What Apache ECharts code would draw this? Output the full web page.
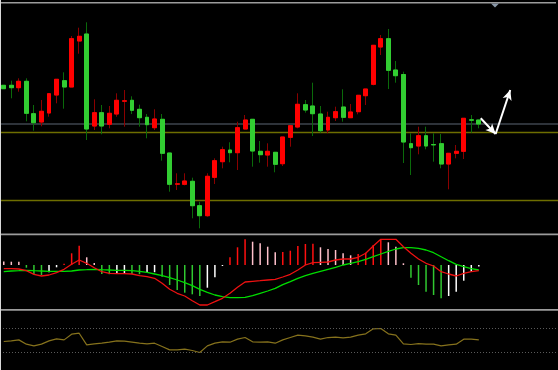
<!DOCTYPE html>
<html><head><meta charset="utf-8">
<script src="https://cdn.jsdelivr.net/npm/echarts@6/dist/echarts.min.js"></script>
<style>html,body{margin:0;padding:0;background:#000;}#c{width:558px;height:370px;}</style>
</head><body><div id="c"></div>
<script>
// ---- data (price units are arbitrary points) ----
const opens  = [164.7,164.7,162.3,168.7,136.3,128,137,155,169.3,163,209,216,124,137.3,125.7,136,148.8,149.7,140.7,132.7,122.3,130.7,97,65.8,65.7,68.7,44.3,34.3,72.7,88.3,100,97.3,121,130.7,98.7,95,97.7,86.3,112.7,123,145.3,144,136,120,132.3,143,132.3,138.3,154.3,165.7,203,211.3,180,175.5,106.3,104,114.3,105.5,106.3,86,96.7,98.7,130.2,130];
const closes = [161.3,162.3,168.7,136.7,127.3,138.7,156.3,170.7,163,211.3,213.7,121,137.3,124,136.7,149.7,149.2,139.7,132.3,125.3,131,96.7,65.7,66.2,69,44.3,34.3,73.7,89.3,100.3,97.3,122.3,130,99,95.3,98.7,85.7,113,124.3,145.7,140,136.3,119.3,132.7,138.3,132.7,138,154.7,161,204.7,211.3,179.7,174.3,108,102.3,114.3,104,105.1,86,96.7,98.7,131.7,129.8,126];
const lows   = [161,151.7,158.3,128.7,119.3,123.7,133.3,146.7,141.3,163,196.3,110,120,115.7,121.7,133.3,123.3,136,123.3,111.7,120,89.3,58.3,60,64.7,31.7,21.7,33.3,66,81.7,87.7,80,121,83.3,87.3,83.3,77.7,84,103.3,121.7,137.3,114,117.3,116.7,129,128.3,132.3,135.7,145,164.7,195,161,167.3,87,75,95.7,100.7,88.3,81.7,60.7,91.7,91,117.3,121.7];
const highs  = [165,169.3,171.7,171.7,145,150,156.3,170.7,177.7,214,222.3,227.7,150.7,145,144,156.7,160,153.7,145.3,136,140.7,136,97,76.7,76.7,72.3,48.3,76.7,91.7,103.3,107.7,128.3,135,130.7,109,106.7,97.7,113,124.3,156.7,150,167.3,144,138.3,143.3,160.7,146,154.7,161,204.7,215,221,189,178.3,116.7,123.3,123.3,116.7,116,96.7,105,131.7,135,130];

const macdHist   = [3.6,3.3,3.2,-2.7,-9,-10,-7.3,-2.3,1.3,11.7,19.3,7.7,2,-9,-9.2,-9,-8.3,-9,-9.2,-7.3,-7.2,-11.7,-20,-25,-27.7,-29.3,-31,-22.7,-12.3,-1,7.7,17.7,25.7,23.3,21.7,18.3,12.8,13,14.3,19,21,21.3,17.7,16,15,11.7,9.7,11,12.3,20,25.7,22.7,18.3,1.7,-12.7,-20,-26.7,-30,-33.3,-31,-26.7,-15.7,-6.7,-1.5];
const macdLine   = [-3.7,-3.7,-4,-5.7,-9.3,-11,-10,-7.7,-4.3,0.7,5,1.7,-2.7,-6.7,-8.3,-8.7,-8.7,-9,-10.7,-11.7,-13.3,-18.3,-24.3,-28.3,-31,-35.7,-40,-40,-36.7,-33.3,-28.3,-22.3,-17,-16.3,-15.7,-15,-14.3,-12,-9.3,-5,0,2.3,2.7,3,5,6,6,7.7,11.7,19,25.7,25.7,25.7,18.3,11.7,6,1.7,-1,-6.7,-9,-11,-8.3,-6.7,-5.7];
const signalLine = [-6.7,-6,-5.7,-5.3,-5.7,-6,-6.3,-6.3,-6.3,-6,-5,-4.7,-4.3,-4.7,-5,-5.3,-5.3,-5.7,-6.3,-7.3,-9,-10.7,-12.7,-15,-17.7,-20.7,-24.3,-27.3,-30,-31.7,-32.7,-32.7,-32.3,-30.7,-28.3,-26,-23.3,-19.7,-16.7,-13.3,-10.7,-8.3,-6.3,-4.3,-2.3,0,1.7,3.3,5.7,8.3,11,13.7,16,17.3,17.3,16.7,15,12.3,8.3,4.3,0.7,-1.7,-3.7,-5];
const rsiLine    = [47.7,48.8,50.5,43.1,40.2,43.1,48.8,52.2,50.5,60.2,61.9,41.9,43.7,44.8,46.5,48.8,48.2,46.5,44.8,43.7,44.8,39.1,33.4,33.4,34.5,32.2,28.8,40.2,44.8,47.1,46.5,51.7,54.5,47.1,46.5,47.1,44.8,50.5,54.5,58.5,57.4,55.1,51.7,54.5,55.1,53.9,55.1,58.5,60.8,69.4,70,60.8,58.5,43.7,42.5,44.2,43.1,43.1,40.2,41.9,43.1,51.7,51.7,50.5];

const priceLevels = [126, 117.3, 49.3];
const rsiLevels = [70, 30];
const arrowPath = [[63.25,131.7],[65.23,116],[67.17,160]];
const slotCount = 74;
const categories = Array.from({length: slotCount}, (_, i) => 'Bar ' + (i + 1));

// ---- build chart ----
const fullCandles = opens.map((o, i) => [o, closes[i], lows[i], highs[i]]);
const bodyCandles = opens.map((o, i) => [o, closes[i], Math.min(o, closes[i]), Math.max(o, closes[i])]);

function histColor(p) {
  const i = p.dataIndex, v = macdHist[i];
  const prev = i > 0 ? macdHist[i - 1] : v + 0.1;
  if (v >= 0) return v > prev ? '#ff1010' : '#ffc0cb';
  return v < prev ? '#30c830' : '#ffffff';
}

const gridBase = { left: -2.895, width: 561.66 };
const chart = echarts.init(document.getElementById('c'), null, { renderer: 'canvas' });
chart.setOption({
  animation: false,
  backgroundColor: '#000000',
  grid: [
    Object.assign({ top: 3, height: 231 }, gridBase),
    Object.assign({ top: 235, height: 74 }, gridBase),
    Object.assign({ top: 311, height: 58.3 }, gridBase)
  ],
  xAxis: [
    { type: 'category', data: categories, gridIndex: 0, show: false },
    { type: 'category', data: categories, gridIndex: 1, show: false },
    { type: 'category', data: categories, gridIndex: 2, show: false },
    { type: 'value', gridIndex: 0, min: -0.5, max: slotCount - 0.5, show: false }
  ],
  yAxis: [
    { type: 'value', gridIndex: 0, min: 16, max: 247, show: false, splitLine: { show: false } },
    { type: 'value', gridIndex: 1, min: -44, max: 30, show: false, splitLine: { show: false } },
    { type: 'value', gridIndex: 2, min: 0, max: 100, show: false, splitLine: { show: false } }
  ],
  graphic: [
    { type: 'rect', shape: { x: 0, y: 2, width: 556, height: 1.6 }, style: { fill: '#9c9c9c' }, z: 100 },
    { type: 'rect', shape: { x: 0, y: 233.4, width: 558, height: 1.8 }, style: { fill: '#9c9c9c' }, z: 100 },
    { type: 'rect', shape: { x: 0, y: 309, width: 558, height: 1.8 }, style: { fill: '#9c9c9c' }, z: 100 },
    { type: 'rect', shape: { x: 0, y: 0, width: 1, height: 370 }, style: { fill: '#d8d8d8' }, z: 100 },
    { type: 'polygon', shape: { points: [[491, 3.5], [499, 3.5], [495, 7.5]] }, style: { fill: '#8a98a8' }, z: 100 }
  ],
  series: [
    {
      type: 'candlestick', xAxisIndex: 0, yAxisIndex: 0, barWidth: 4.4,
      data: fullCandles,
      itemStyle: { color: '#ff0000', color0: '#32cd32', borderColor: '#8b0000', borderColor0: '#0a6a0a', borderWidth: 1 },
      markLine: {
        silent: true, symbol: ['none', 'none'], label: { show: false },
        data: [
          { yAxis: priceLevels[0], lineStyle: { color: '#3e444e', width: 1.6, type: 'solid' } },
          { yAxis: priceLevels[1], lineStyle: { color: '#6e6e00', width: 1.4, type: 'solid' } },
          { yAxis: priceLevels[2], lineStyle: { color: '#6e6e00', width: 1.4, type: 'solid' } }
        ],
        z: 1
      },
      z: 3
    },
    {
      type: 'candlestick', xAxisIndex: 0, yAxisIndex: 0, barWidth: 4.4,
      data: bodyCandles,
      itemStyle: { color: '#ff0000', color0: '#32cd32', borderColor: '#ff0000', borderColor0: '#32cd32', borderWidth: 1 },
      z: 4
    },
    {
      type: 'line', xAxisIndex: 3, yAxisIndex: 0, data: arrowPath,
      showSymbol: false, lineStyle: { opacity: 0 }, silent: true,
      markLine: {
        silent: true, symbol: ['none', 'arrow'], symbolSize: [7, 10], label: { show: false },
        lineStyle: { color: '#ffffff', width: 2, type: 'solid' },
        data: [
          [{ coord: arrowPath[0] }, { coord: arrowPath[1] }],
          [{ coord: arrowPath[1] }, { coord: arrowPath[2] }]
        ]
      },
      z: 6
    },
    {
      type: 'bar', xAxisIndex: 1, yAxisIndex: 1, barWidth: 1.5, data: macdHist,
      itemStyle: { color: histColor }, z: 2
    },
    {
      type: 'line', xAxisIndex: 1, yAxisIndex: 1, data: macdLine, showSymbol: false,
      lineStyle: { color: '#ee1111', width: 1.3 }, z: 4
    },
    {
      type: 'line', xAxisIndex: 1, yAxisIndex: 1, data: signalLine, showSymbol: false,
      lineStyle: { color: '#00dd00', width: 1.3 }, z: 3
    },
    {
      type: 'line', xAxisIndex: 2, yAxisIndex: 2, data: rsiLine, showSymbol: false,
      lineStyle: { color: '#86721c', width: 1.2 },
      markLine: {
        silent: true, symbol: ['none', 'none'], label: { show: false },
        lineStyle: { color: '#5a5a5a', width: 1, type: [1, 2] },
        data: rsiLevels.map(v => ({ yAxis: v }))
      }
    }
  ]
});
</script>
</body></html>
